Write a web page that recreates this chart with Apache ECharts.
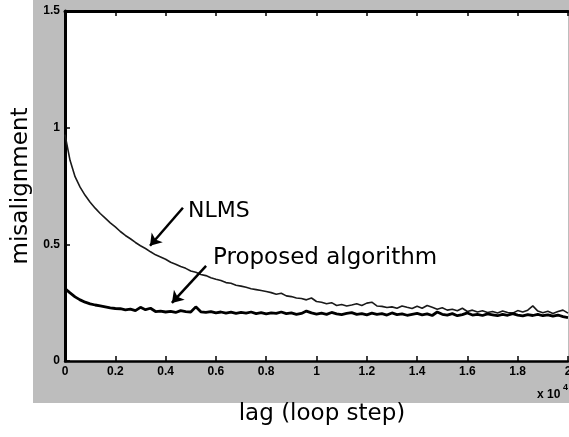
<!DOCTYPE html>
<html>
<head>
<meta charset="utf-8">
<script src="https://cdn.jsdelivr.net/npm/echarts@6/dist/echarts.min.js"></script>
<style>
  html, body { margin: 0; padding: 0; background: #fff; }
  #main { width: 569px; height: 437px; }
</style>
</head>
<body>
<div id="main"></div>
<script>
// lag (x 10^4 loop steps)
var lag = [
  0.00, 0.02, 0.04, 0.06, 0.08, 0.10, 0.12, 0.14, 0.16, 0.18,
  0.20, 0.22, 0.24, 0.26, 0.28, 0.30, 0.32, 0.34, 0.36, 0.38,
  0.40, 0.42, 0.44, 0.46, 0.48, 0.50, 0.52, 0.54, 0.56, 0.58,
  0.60, 0.62, 0.64, 0.66, 0.68, 0.70, 0.72, 0.74, 0.76, 0.78,
  0.80, 0.82, 0.84, 0.86, 0.88, 0.90, 0.92, 0.94, 0.96, 0.98,
  1.00, 1.02, 1.04, 1.06, 1.08, 1.10, 1.12, 1.14, 1.16, 1.18,
  1.20, 1.22, 1.24, 1.26, 1.28, 1.30, 1.32, 1.34, 1.36, 1.38,
  1.40, 1.42, 1.44, 1.46, 1.48, 1.50, 1.52, 1.54, 1.56, 1.58,
  1.60, 1.62, 1.64, 1.66, 1.68, 1.70, 1.72, 1.74, 1.76, 1.78,
  1.80, 1.82, 1.84, 1.86, 1.88, 1.90, 1.92, 1.94, 1.96, 1.98,
  2.00
];

// NLMS misalignment
var nlms = [
  0.970, 0.860, 0.790, 0.745, 0.710, 0.680, 0.655, 0.632, 0.612, 0.592,
  0.575, 0.555, 0.538, 0.524, 0.508, 0.494, 0.482, 0.468, 0.455, 0.446,
  0.436, 0.423, 0.415, 0.405, 0.397, 0.386, 0.380, 0.371, 0.366, 0.357,
  0.350, 0.345, 0.336, 0.333, 0.325, 0.321, 0.316, 0.310, 0.306, 0.302,
  0.298, 0.293, 0.286, 0.290, 0.279, 0.276, 0.270, 0.268, 0.262, 0.270,
  0.255, 0.252, 0.245, 0.250, 0.238, 0.242, 0.236, 0.240, 0.245, 0.238,
  0.248, 0.252, 0.236, 0.234, 0.229, 0.232, 0.226, 0.236, 0.230, 0.225,
  0.235, 0.226, 0.238, 0.230, 0.222, 0.228, 0.218, 0.222, 0.215, 0.226,
  0.212, 0.218, 0.210, 0.215, 0.208, 0.212, 0.206, 0.214, 0.208, 0.205,
  0.216, 0.210, 0.218, 0.236, 0.214, 0.207, 0.213, 0.204, 0.212, 0.218,
  0.205
];

// Proposed algorithm misalignment
var proposed = [
  0.310, 0.292, 0.275, 0.262, 0.252, 0.245, 0.240, 0.236, 0.232, 0.228,
  0.225, 0.224, 0.219, 0.222, 0.216, 0.230, 0.220, 0.226, 0.212, 0.214,
  0.210, 0.213, 0.208, 0.216, 0.212, 0.210, 0.232, 0.211, 0.208, 0.212,
  0.206, 0.210, 0.205, 0.209, 0.204, 0.208, 0.205, 0.210, 0.203, 0.207,
  0.202, 0.206, 0.204, 0.210, 0.203, 0.206, 0.200, 0.204, 0.214, 0.206,
  0.201, 0.205, 0.200, 0.208, 0.202, 0.199, 0.204, 0.207, 0.200, 0.203,
  0.198, 0.205, 0.200, 0.203, 0.197, 0.206, 0.199, 0.202, 0.196, 0.200,
  0.204, 0.198, 0.202, 0.195, 0.210, 0.200, 0.197, 0.203, 0.194, 0.199,
  0.206, 0.197, 0.200, 0.195, 0.202, 0.198, 0.194, 0.200, 0.196, 0.203,
  0.197, 0.193, 0.199, 0.195, 0.200, 0.194, 0.198, 0.192, 0.197, 0.190,
  0.186
];

var xTicks = ['0', '0.2', '0.4', '0.6', '0.8', '1', '1.2', '1.4', '1.6', '1.8', '2'];
var yTicks = ['0', '0.5', '1', '1.5'];

var bigFont = 'DejaVu Sans';
var tickFont = 'Liberation Sans';

function pairs(xs, ys) {
  var out = [];
  for (var i = 0; i < xs.length; i++) out.push([xs[i], ys[i]]);
  return out;
}

var chart = echarts.init(document.getElementById('main'));

var option = {
  animation: false,
  graphic: [
    {
      // grey figure background (matlab style)
      type: 'rect',
      z: -10,
      shape: { x: 33, y: 0, width: 536, height: 403 },
      style: { fill: '#bdbdbd' }
    },
    {
      type: 'text',
      x: 188, y: 211,
      style: { text: 'NLMS', font: '22px "' + bigFont + '"', fill: '#000', verticalAlign: 'middle' }
    },
    {
      type: 'text',
      x: 213, y: 258,
      style: { text: 'Proposed algorithm', font: '23px "' + bigFont + '"', fill: '#000', verticalAlign: 'middle' }
    },
    {
      type: 'text',
      x: 537, y: 395,
      style: { text: 'x 10', font: 'bold 12px "' + tickFont + '"', fill: '#000', verticalAlign: 'middle' }
    },
    {
      type: 'text',
      x: 563, y: 388,
      style: { text: '4', font: 'bold 9px "' + tickFont + '"', fill: '#000', verticalAlign: 'middle' }
    }
  ],
  grid: {
    left: 65, right: 1, top: 11, bottom: 76,
    outerBoundsMode: 'none',
    containLabel: false,
    show: true,
    backgroundColor: '#fff',
    borderWidth: 0
  },
  xAxis: [
    {
      type: 'value',
      min: 0, max: 2, interval: 0.2,
      name: 'lag (loop step)',
      nameLocation: 'middle',
      nameGap: 42,
      nameTextStyle: { fontFamily: bigFont, fontSize: 23, color: '#000', padding: [0, 0, 0, 11] },
      axisLine: { show: true, lineStyle: { color: '#000', width: 2.5 } },
      axisTick: { show: true, inside: true, length: 5, lineStyle: { color: '#000', width: 1.5 } },
      axisLabel: {
        margin: 5,
        fontFamily: tickFont, fontWeight: 'bold', fontSize: 12, color: '#000',
        formatter: function (v) { return xTicks[Math.round(v / 0.2)]; }
      },
      splitLine: { show: false }
    },
    {
      type: 'value',
      position: 'top',
      min: 0, max: 2, interval: 0.2,
      axisLine: { show: true, lineStyle: { color: '#000', width: 3 } },
      axisTick: { show: true, inside: true, length: 5, lineStyle: { color: '#000', width: 1.5 } },
      axisLabel: { show: false },
      splitLine: { show: false }
    }
  ],
  yAxis: {
    type: 'value',
    min: 0, max: 1.5, interval: 0.5,
    name: 'misalignment',
    nameLocation: 'middle',
    nameGap: 31,
    nameTextStyle: { fontFamily: bigFont, fontSize: 23, color: '#000' },
    axisLine: { show: true, lineStyle: { color: '#000', width: 3 } },
    axisTick: { show: true, inside: true, length: 5, lineStyle: { color: '#000', width: 1.5 } },
    axisLabel: {
      margin: 5,
      fontFamily: tickFont, fontWeight: 'bold', fontSize: 12, color: '#000',
      formatter: function (v) { return yTicks[Math.round(v / 0.5)]; }
    },
    splitLine: { show: false }
  },
  series: [
    {
      name: 'NLMS',
      type: 'line',
      showSymbol: false,
      data: pairs(lag, nlms),
      lineStyle: { color: '#1a1a1a', width: 1.6 },
      markLine: {
        silent: true,
        symbol: ['none', 'arrow'],
        symbolSize: 11,
        label: { show: false },
        lineStyle: { color: '#000', width: 2.5, type: 'solid' },
        data: [[{ coord: [0.469, 0.657] }, { coord: [0.338, 0.494] }]]
      }
    },
    {
      name: 'Proposed algorithm',
      type: 'line',
      showSymbol: false,
      data: pairs(lag, proposed),
      lineStyle: { color: '#000', width: 2.8 },
      markLine: {
        silent: true,
        symbol: ['none', 'arrow'],
        symbolSize: 11,
        label: { show: false },
        lineStyle: { color: '#000', width: 2.5, type: 'solid' },
        data: [[{ coord: [0.561, 0.408] }, { coord: [0.425, 0.249] }]]
      }
    }
  ]
};

chart.setOption(option);
</script>
</body>
</html>
